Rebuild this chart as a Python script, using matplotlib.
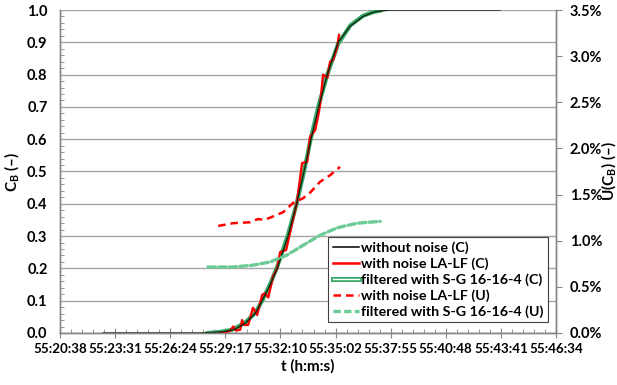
import matplotlib
matplotlib.use("Agg")
import matplotlib.pyplot as plt
import matplotlib.patheffects as pe
from matplotlib.ticker import MultipleLocator, FuncFormatter
from matplotlib.lines import Line2D

plt.rcParams['font.family'] = ['Lato', 'DejaVu Sans']
plt.rcParams['font.weight'] = 'bold'
plt.rcParams['mathtext.fontset'] = 'custom'
plt.rcParams['mathtext.rm'] = 'Lato:bold'
plt.rcParams['mathtext.it'] = 'Lato:bold'
plt.rcParams['mathtext.bf'] = 'Lato:bold'

# time in seconds after 55:20:38
tick_step = 172.8
tick_labels = ["55:20:38", "55:23:31", "55:26:24", "55:29:17", "55:32:10",
               "55:35:02", "55:37:55", "55:40:48", "55:43:41", "55:46:34"]

t_true = [135, 439, 486, 518, 549, 580, 612, 634, 659, 681, 715, 742, 765, 787,
          811, 838, 872, 910, 950, 988, 1035, 1129, 1380]
c_true = [0, 0, 0.002, 0.005, 0.012, 0.03, 0.06, 0.1, 0.15, 0.2, 0.3, 0.4, 0.5,
          0.6, 0.7, 0.8, 0.9, 0.95, 0.98, 0.995, 1.0, 1.0, 1.0]

t_noise = [502, 533, 543, 552, 565, 571, 577, 590, 605, 618, 634, 643, 653, 668,
           681, 690, 709, 743, 759, 775, 784, 800, 809, 816, 825, 838, 847, 856,
           869, 875]
c_noise = [0, 0.006, 0.02, 0.008, 0.01, 0.04, 0.025, 0.025, 0.078, 0.056, 0.118,
           0.123, 0.11, 0.175, 0.2, 0.25, 0.257, 0.405, 0.526, 0.53, 0.607, 0.628,
           0.67, 0.71, 0.8, 0.79, 0.84, 0.845, 0.885, 0.923]

t_filt = [464, 500, 540, 580, 612, 634, 659, 681, 715, 742, 765, 787, 811, 838,
          872, 910, 950, 980, 1004]
c_filt = [0.0, 0.003, 0.01, 0.032, 0.062, 0.1, 0.152, 0.205, 0.305, 0.4, 0.5,
          0.605, 0.705, 0.8, 0.895, 0.952, 0.982, 0.993, 0.998]

t_u_noise = [496, 543, 596, 621, 640, 659, 700, 731, 762, 784, 816, 847, 878]
u_noise = [0.0116, 0.0119, 0.0120, 0.01235, 0.01225, 0.0125, 0.0131, 0.0141,
           0.0146, 0.0152, 0.0164, 0.0171, 0.0180]

t_u_filt = [464, 543, 605, 659, 712, 762, 816, 869, 932, 1004]
u_filt = [0.00715, 0.00715, 0.00735, 0.0077, 0.00845, 0.0095, 0.0106, 0.0114,
          0.0119, 0.0121]

GREEN = '#3AAA68'
GREEN_D = '#6CCB96'
GRID = '#A6A6A6'
SPINE = '#868686'

fig = plt.figure(figsize=(6.17, 3.85), dpi=100)
ax = fig.add_axes([60/617, 52/385, 496/617, 323/385])
ax2 = ax.twinx()

ax.set_xlim(0, 9 * tick_step)
ax.set_ylim(0, 1.0)
ax2.set_ylim(0, 0.035)

ax.yaxis.grid(True, color=GRID, linewidth=1.0)
ax.set_axisbelow(True)

ax.plot(t_filt, c_filt, color=GREEN, linewidth=3.0, zorder=2.5)
ax.plot(t_noise, c_noise, color='#FF0000', linewidth=1.7, zorder=2.7)
ax.plot(t_true, c_true, color='#102810', linewidth=1.0, zorder=3)

ax2.plot(t_u_noise, u_noise, color='#FF0000', linewidth=1.8, dashes=(3.0, 2.0))
ax2.plot(t_u_filt, u_filt, color=GREEN_D, linewidth=2.4, dashes=(2.2, 1.0),
         dash_capstyle='round')

# ticks
ax.set_xticks([i * tick_step for i in range(len(tick_labels))])
ax.set_xticklabels(tick_labels)
ax.xaxis.set_minor_locator(MultipleLocator(tick_step / 5))
ax.yaxis.set_major_locator(MultipleLocator(0.1))
ax.yaxis.set_minor_locator(MultipleLocator(0.02))
ax.yaxis.set_major_formatter(FuncFormatter(lambda v, p: f"{v:.1f}"))
ax2.yaxis.set_major_locator(MultipleLocator(0.005))
ax2.yaxis.set_major_formatter(FuncFormatter(lambda v, p: f"{v*100:.1f}%"))

ax.tick_params(axis='x', which='major', direction='inout', length=7, color=SPINE,
               labelsize=9.6, pad=4)
ax.tick_params(axis='x', which='minor', direction='in', length=3, color=SPINE)
ax.tick_params(axis='y', which='major', direction='in', length=0, labelsize=10.5, pad=9)
ax.tick_params(axis='y', which='minor', direction='in', length=3, color=SPINE)
ax2.tick_params(axis='y', which='major', direction='out', length=4, color=SPINE,
                labelsize=10.5, pad=6)

for a in (ax, ax2):
    a.spines['top'].set_visible(False)
    for s in ('left', 'right', 'bottom'):
        a.spines[s].set_color(SPINE)
        a.spines[s].set_linewidth(1.0)

ax.set_xlabel("t (h:m:s)", fontsize=11, fontweight='bold', labelpad=3)
ax.set_ylabel(r"C$_{\mathrm{B}}$ (–)", fontsize=11, fontweight='bold', labelpad=4)
ax2.set_ylabel(r"U(C$_{\mathrm{B}}$) (–)", fontsize=11, fontweight='bold',
               rotation=90)
ax2.yaxis.set_label_coords(1.087, 0.5)

# legend
handles = [
    Line2D([], [], color='black', linewidth=1.1),
    Line2D([], [], color='#FF0000', linewidth=1.8),
    Line2D([], [], color='white', linewidth=1.0,
           path_effects=[pe.Stroke(linewidth=3.6, foreground=GREEN), pe.Normal()]),
    Line2D([], [], color='#FF0000', linewidth=1.8, dashes=(3.0, 2.0)),
    Line2D([], [], color=GREEN_D, linewidth=2.4, dashes=(2.2, 1.0)),
]
labels = ["without noise (C)", "with noise LA-LF (C)", "filtered with S-G 16-16-4 (C)",
          "with noise LA-LF (U)", "filtered with S-G 16-16-4 (U)"]
leg = ax2.legend(handles, labels, loc='lower right', bbox_to_anchor=(0.984, 0.034),
                 fontsize=10.3, frameon=True, fancybox=False, framealpha=1,
                 edgecolor='#404040', handlelength=1.8, handletextpad=0.2,
                 labelspacing=0.22, borderpad=0.3, borderaxespad=0)
leg.get_frame().set_linewidth(0.8)

fig.savefig("out.png", dpi=100)
